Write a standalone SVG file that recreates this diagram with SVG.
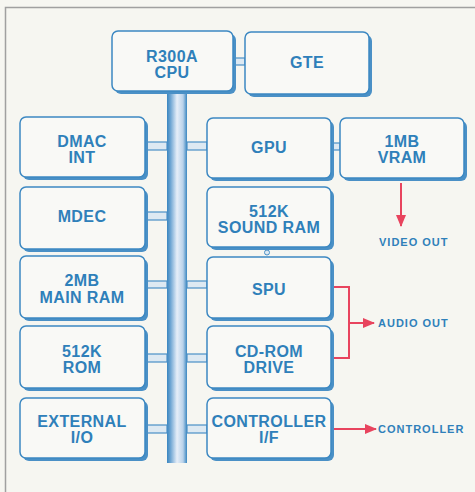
<svg xmlns="http://www.w3.org/2000/svg" width="475" height="492" viewBox="0 0 475 492">
<defs>
<style>
.bg{fill:#f6f6f1}
.frame{fill:none;stroke:#a0a0a0;stroke-width:1.5}
.sh{fill:#4a90c6}
.box{fill:#f9f9f6;stroke:#3c88c2;stroke-width:1.5}
.t{font-family:"Liberation Sans",Arial,sans-serif;font-weight:bold;font-size:16px;fill:#2f80ba;text-anchor:middle;letter-spacing:0.4px}
.o{font-family:"Liberation Sans",Arial,sans-serif;font-weight:bold;font-size:11px;fill:#2f80ba;letter-spacing:1px}
.cn{fill:#dde9f2;stroke:#4a90c6;stroke-width:1.2}
.red{fill:none;stroke:#e8445e;stroke-width:2}
</style>
<linearGradient id="busg" x1="0" x2="1" y1="0" y2="0">
<stop offset="0" stop-color="#3a86c0"/>
<stop offset="0.18" stop-color="#6fa6d3"/>
<stop offset="0.5" stop-color="#e6eef8"/>
<stop offset="0.8" stop-color="#b9d2ea"/>
<stop offset="1" stop-color="#3a86c0"/>
</linearGradient>
<marker id="ah" markerWidth="12" markerHeight="10" refX="11" refY="5" orient="auto" markerUnits="userSpaceOnUse">
<path d="M0,0 L12,5 L0,10 Z" fill="#e8445e"/>
</marker>
</defs>
<rect class="bg" x="0" y="0" width="475" height="492"/>
<rect class="frame" x="5.5" y="7.5" width="480" height="495"/>

<g id="connectors">
<rect x="167" y="90" width="20" height="373" fill="url(#busg)"/>
<rect x="233" y="58" width="12" height="7" class="cn"/>
<rect x="333" y="143" width="7" height="7" class="cn"/>
<circle cx="267" cy="252.5" r="2.5" fill="#dde9f2" stroke="#4a90c6" stroke-width="1"/>
<rect x="145" y="142" width="22" height="8" class="cn"/>
<rect x="145" y="212" width="22" height="8" class="cn"/>
<rect x="145" y="281" width="22" height="7" class="cn"/>
<rect x="145" y="354" width="22" height="8" class="cn"/>
<rect x="145" y="425" width="22" height="8" class="cn"/>
<rect x="187" y="142" width="20" height="8" class="cn"/>
<rect x="187" y="281" width="20" height="7" class="cn"/>
<rect x="187" y="354" width="20" height="8" class="cn"/>
<rect x="187" y="425" width="20" height="8" class="cn"/>
<path class="red" d="M401,183 L401,226" marker-end="url(#ah)"/>
<path class="red" d="M333,287 L349,287 L349,358 L333,358"/>
<path class="red" d="M349,323 L374,323" marker-end="url(#ah)"/>
<path class="red" d="M333,429 L376,429" marker-end="url(#ah)"/>
</g>

<g id="cpu"><rect class="sh" x="115" y="34" width="121" height="60" rx="6"/><rect class="box" x="112" y="31" width="121" height="60" rx="6"/><text class="t" x="172" y="62">R300A</text><text class="t" x="172" y="78">CPU</text></g>
<g id="gte"><rect class="sh" x="248" y="35" width="124" height="62" rx="6"/><rect class="box" x="245" y="32" width="124" height="62" rx="6"/><text class="t" x="307" y="68">GTE</text></g>
<g id="dmac"><rect class="sh" x="23" y="120" width="125" height="60" rx="6"/><rect class="box" x="20" y="117" width="125" height="60" rx="6"/><text class="t" x="82" y="147">DMAC</text><text class="t" x="82" y="163">INT</text></g>
<g id="gpu"><rect class="sh" x="210" y="121" width="124" height="60" rx="6"/><rect class="box" x="207" y="118" width="124" height="60" rx="6"/><text class="t" x="269" y="153">GPU</text></g>
<g id="vram"><rect class="sh" x="343" y="121" width="124" height="60" rx="6"/><rect class="box" x="340" y="118" width="124" height="60" rx="6"/><text class="t" x="402" y="147">1MB</text><text class="t" x="402" y="163">VRAM</text></g>
<g id="mdec"><rect class="sh" x="23" y="190" width="125" height="62" rx="6"/><rect class="box" x="20" y="187" width="125" height="62" rx="6"/><text class="t" x="82" y="222">MDEC</text></g>
<g id="soundram"><rect class="sh" x="210" y="190" width="124" height="60" rx="6"/><rect class="box" x="207" y="187" width="124" height="60" rx="6"/><text class="t" x="269" y="217">512K</text><text class="t" x="269" y="233">SOUND RAM</text></g>
<g id="mainram"><rect class="sh" x="23" y="259" width="125" height="62" rx="6"/><rect class="box" x="20" y="256" width="125" height="62" rx="6"/><text class="t" x="82" y="286">2MB</text><text class="t" x="82" y="303">MAIN RAM</text></g>
<g id="spu"><rect class="sh" x="210" y="260" width="124" height="61" rx="6"/><rect class="box" x="207" y="257" width="124" height="61" rx="6"/><text class="t" x="269" y="295">SPU</text></g>
<g id="rom"><rect class="sh" x="23" y="329" width="125" height="62" rx="6"/><rect class="box" x="20" y="326" width="125" height="62" rx="6"/><text class="t" x="82" y="357">512K</text><text class="t" x="82" y="373">ROM</text></g>
<g id="cdrom"><rect class="sh" x="210" y="329" width="124" height="62" rx="6"/><rect class="box" x="207" y="326" width="124" height="62" rx="6"/><text class="t" x="269" y="357">CD-ROM</text><text class="t" x="269" y="373">DRIVE</text></g>
<g id="extio"><rect class="sh" x="23" y="401" width="125" height="60" rx="6"/><rect class="box" x="20" y="398" width="125" height="60" rx="6"/><text class="t" x="82" y="427">EXTERNAL</text><text class="t" x="82" y="443">I/O</text></g>
<g id="ctrlif"><rect class="sh" x="210" y="401" width="124" height="60" rx="6"/><rect class="box" x="207" y="398" width="124" height="60" rx="6"/><text class="t" x="269" y="427">CONTROLLER</text><text class="t" x="269" y="443">I/F</text></g>

<g id="outputs">
<text class="o" x="379" y="246">VIDEO OUT</text>
<text class="o" x="378" y="327">AUDIO OUT</text>
<text class="o" x="378" y="433">CONTROLLER</text>
</g>
</svg>
